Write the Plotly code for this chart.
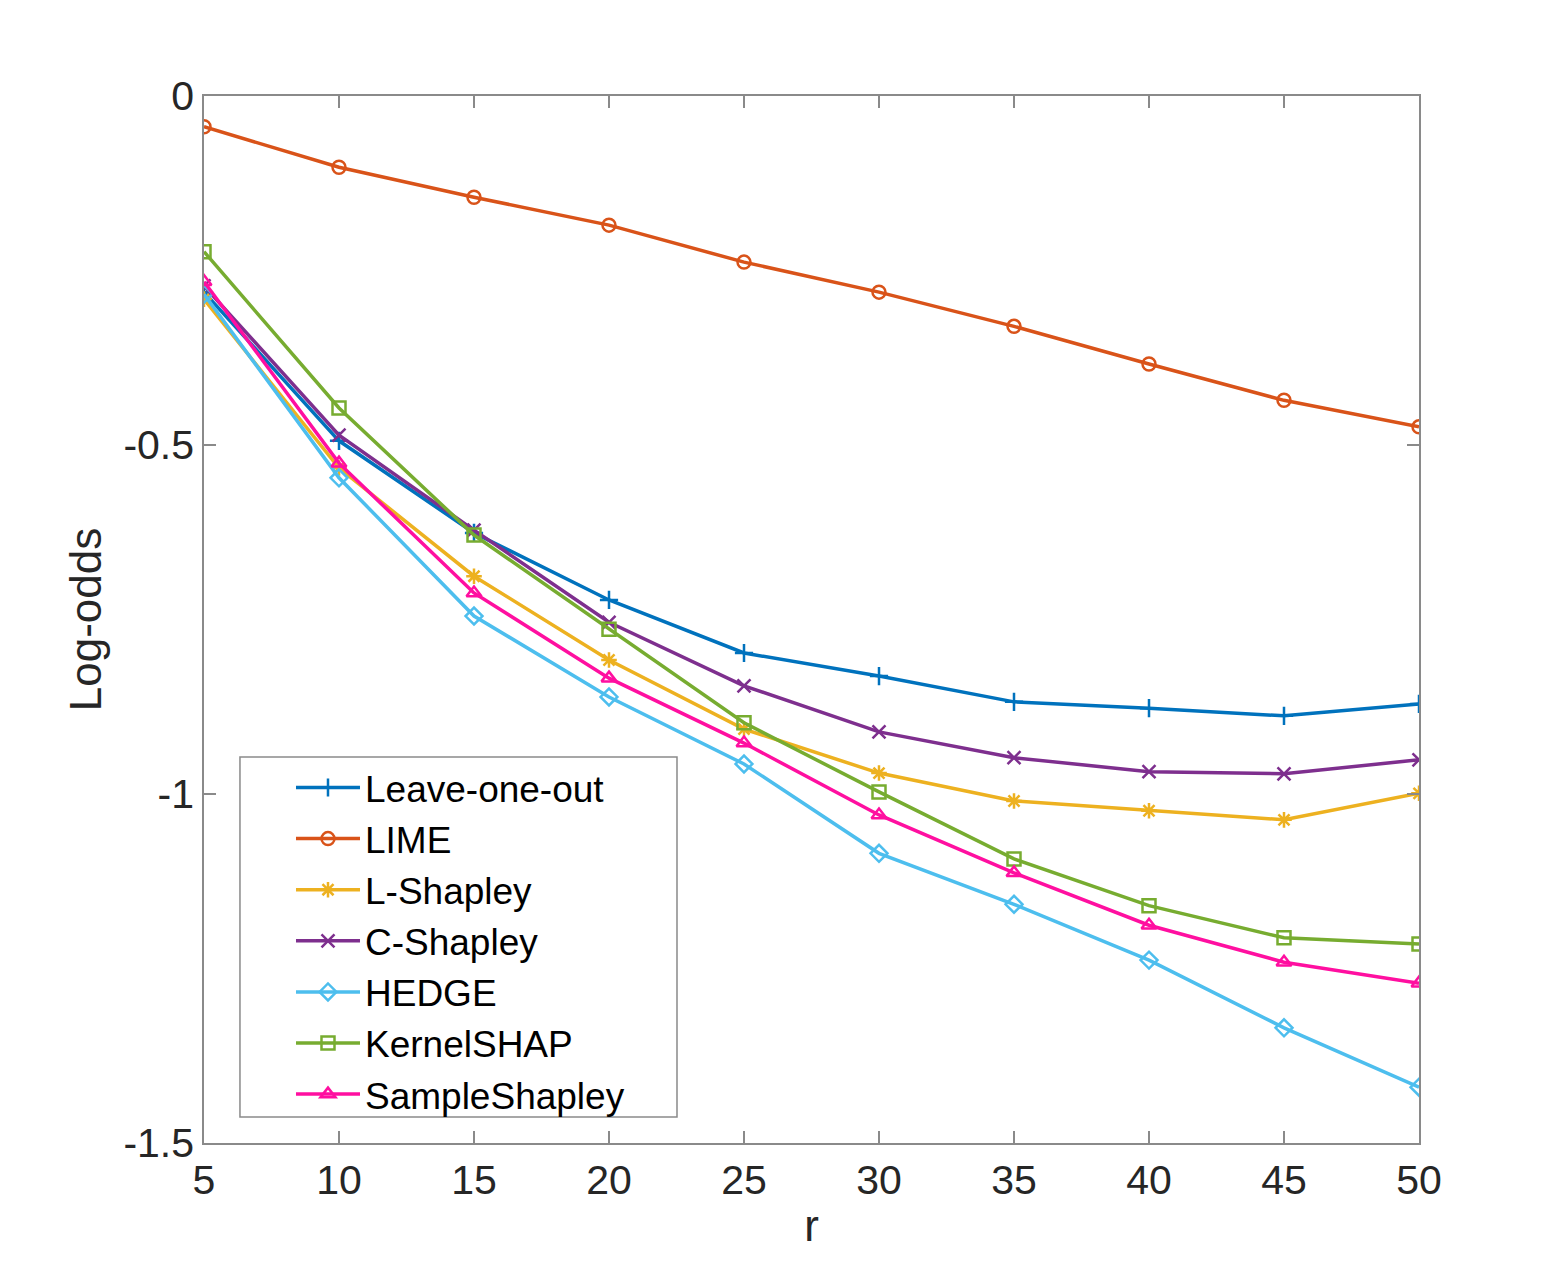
import plotly.graph_objects as go

# r values (x axis)
r = [5, 10, 15, 20, 25, 30, 35, 40, 45, 50]

# log-odds per method
leave_one_out = [-0.281, -0.494, -0.626, -0.722, -0.798, -0.831, -0.868, -0.877, -0.888, -0.871]
lime = [-0.044, -0.102, -0.145, -0.185, -0.238, -0.281, -0.330, -0.384, -0.436, -0.474]
l_shapley = [-0.291, -0.533, -0.688, -0.808, -0.907, -0.970, -1.010, -1.024, -1.037, -0.999]
c_shapley = [-0.272, -0.486, -0.622, -0.754, -0.845, -0.911, -0.948, -0.968, -0.971, -0.951]
hedge = [-0.284, -0.547, -0.745, -0.861, -0.957, -1.085, -1.158, -1.238, -1.335, -1.420]
kernel_shap = [-0.223, -0.447, -0.629, -0.764, -0.898, -0.997, -1.093, -1.160, -1.206, -1.215]
sample_shapley = [-0.266, -0.526, -0.712, -0.834, -0.927, -1.030, -1.113, -1.188, -1.241, -1.271]

y_ticks = [0, -0.5, -1, -1.5]
y_tick_text = ["0", "-0.5", "-1", "-1.5"]

series = [
    ("Leave-one-out", leave_one_out, "#0072BD", "cross-thin-open"),
    ("LIME", lime, "#D95319", "circle-open"),
    ("L-Shapley", l_shapley, "#EDB120", "asterisk-open"),
    ("C-Shapley", c_shapley, "#7E2F8E", "x-thin-open"),
    ("HEDGE", hedge, "#4DBEEE", "diamond-open"),
    ("KernelSHAP", kernel_shap, "#77AC30", "square-open"),
    ("SampleShapley", sample_shapley, "#FF0FA0", "triangle-up-open"),
]

fig = go.Figure()
for name, vals, color, sym in series:
    fig.add_trace(go.Scatter(
        x=r, y=vals, name=name, mode="lines+markers",
        line=dict(color=color, width=3.5),
        marker=dict(symbol=sym, size=13, color=color, line=dict(color=color, width=2.5)),
    ))

axis_common = dict(
    showgrid=False, zeroline=False, showline=True, mirror="ticks",
    linecolor="#8a8a8a", linewidth=1.5,
    ticks="inside", ticklen=12, tickcolor="#8a8a8a", tickwidth=1.5,
    tickfont=dict(size=41, color="#262626"),
)

# legend frame drawn as a shape so the entries can sit inset like MATLAB's
fig.add_shape(type="rect", xref="paper", yref="paper",
              x0=0.0296, x1=0.3893, y0=0.0248, y1=0.3687,
              line=dict(color="#8a8a8a", width=1.5), fillcolor="white", layer="below")

fig.update_layout(
    width=1568, height=1284,
    paper_bgcolor="white", plot_bgcolor="white",
    margin=dict(l=196, r=157, t=88, b=149),
    font=dict(family="Liberation Sans, Arial, sans-serif", color="#262626"),
    xaxis=dict(range=[5, 50], tickvals=r, title=dict(text="r", font=dict(size=44), standoff=8), **axis_common),
    yaxis=dict(range=[-1.5, 0], tickvals=y_ticks, ticktext=y_tick_text,
               title=dict(text="Log-odds", font=dict(size=44), standoff=8), **axis_common),
    legend=dict(
        x=0.0716, y=0.3687, xanchor="left", yanchor="top",
        bgcolor="rgba(0,0,0,0)", borderwidth=0,
        font=dict(size=37, color="black"), itemwidth=64,
    ),
)

fig.write_html("out.html")
